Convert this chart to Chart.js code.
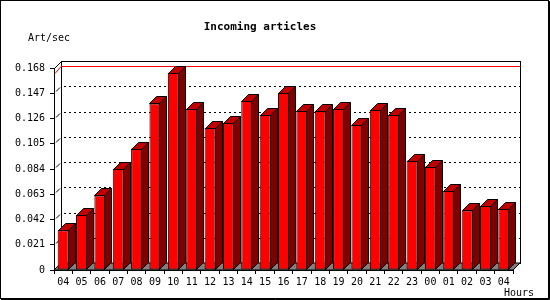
<!DOCTYPE html>
<html>
<head>
<meta charset="utf-8">
<script src="https://cdn.jsdelivr.net/npm/chart.js@4/dist/chart.umd.min.js"></script>
<style>
  body { margin: 0; background: #fff; }
  canvas { display: block; }
</style>
</head>
<body>
<canvas id="articles" width="550" height="300"></canvas>
<script>
var hours = ["04", "05", "06", "07", "08", "09", "10", "11", "12", "13", "14", "15", "16",
             "17", "18", "19", "20", "21", "22", "23", "00", "01", "02", "03", "04"];
var artPerSec = [0.033, 0.046, 0.062, 0.084, 0.101, 0.1385, 0.164, 0.134, 0.118, 0.1225, 0.1405, 0.129, 0.1475,
                 0.1325, 0.1325, 0.134, 0.121, 0.133, 0.129, 0.091, 0.086, 0.066, 0.0495, 0.0535, 0.051];
var yMax = 0.168;
var yStep = 0.021;

var DX = 7, DY = 7;
var monoFont = '"DejaVu Sans Mono", "Liberation Mono", monospace';

// back wall, floor, dotted grid and max line
var depthBackground = {
  id: "depthBackground",
  beforeDatasetsDraw: function(chart) {
    var ctx = chart.ctx;
    var a = chart.chartArea;
    var y = chart.scales.y;
    ctx.save();
    ctx.lineWidth = 1;
    ctx.strokeStyle = "#000";

    ctx.fillStyle = "#fff";
    ctx.fillRect(a.left + DX, a.top - DY, a.right - a.left, a.bottom - a.top);
    ctx.strokeRect(Math.round(a.left + DX) + 0.5, Math.round(a.top - DY) + 0.5,
                   Math.round(a.right - a.left), Math.round(a.bottom - a.top));

    // floor
    ctx.fillStyle = "#808080";
    ctx.beginPath();
    ctx.moveTo(a.left, a.bottom);
    ctx.lineTo(a.right, a.bottom);
    ctx.lineTo(a.right + DX, a.bottom - DY);
    ctx.lineTo(a.left + DX, a.bottom - DY);
    ctx.closePath();
    ctx.fill();
    ctx.stroke();

    // corner diagonals
    ctx.beginPath();
    ctx.moveTo(a.left + 0.5, a.top + 0.5);
    ctx.lineTo(a.left + DX + 0.5, a.top - DY + 0.5);
    ctx.stroke();

    // dotted grid on the back wall
    y.ticks.forEach(function(t) {
      if (t.value <= 0 || t.value >= yMax - 1e-9) return;
      var py = Math.round(y.getPixelForValue(t.value)) + 0.5;
      ctx.setLineDash([]);
      ctx.beginPath();
      ctx.moveTo(a.left + 2, py - 2);
      ctx.lineTo(a.left + DX - 1, py - DY + 1);
      ctx.stroke();
      ctx.setLineDash([2, 3]);
      ctx.beginPath();
      ctx.moveTo(a.left + DX + 3, py - DY);
      ctx.lineTo(a.right + DX, py - DY);
      ctx.stroke();
    });
    ctx.setLineDash([]);

    // maximum value line
    var peak = Math.max.apply(null, artPerSec);
    var my = Math.round(y.getPixelForValue(peak)) + 0.5;
    ctx.strokeStyle = "#ff0000";
    ctx.beginPath();
    ctx.moveTo(a.left + 1, my);
    ctx.lineTo(a.left + DX, my - DY);
    ctx.lineTo(a.right + DX, my - DY);
    ctx.stroke();
    ctx.restore();
  }
};

// side and top faces of each bar
var depthBars = {
  id: "depthBars",
  afterDatasetsDraw: function(chart) {
    var ctx = chart.ctx;
    var bars = chart.getDatasetMeta(0).data;
    ctx.save();
    ctx.lineWidth = 1;
    ctx.strokeStyle = "#000";
    bars.forEach(function(bar) {
      var p = bar.getProps(["x", "y", "base", "width"], true);
      var l = Math.round(p.x - p.width / 2) + 0.5;
      var r = Math.round(p.x + p.width / 2) - 0.5;
      var top = Math.round(p.y) + 0.5;
      var base = Math.round(p.base) - 0.5;

      ctx.fillStyle = "#800000";
      ctx.beginPath();
      ctx.moveTo(r, top);
      ctx.lineTo(r + DX, top - DY);
      ctx.lineTo(r + DX, base - DY);
      ctx.lineTo(r, base);
      ctx.closePath();
      ctx.fill();
      ctx.stroke();

      ctx.fillStyle = "#c00000";
      ctx.beginPath();
      ctx.moveTo(l, top);
      ctx.lineTo(l + DX, top - DY);
      ctx.lineTo(r + DX, top - DY);
      ctx.lineTo(r, top);
      ctx.closePath();
      ctx.fill();
      ctx.stroke();
    });
    ctx.restore();
  }
};

var frameAndText = {
  id: "frameAndText",
  beforeDraw: function(chart) {
    var ctx = chart.ctx;
    ctx.save();
    ctx.fillStyle = "#fff";
    ctx.fillRect(0, 0, chart.width, chart.height);
    ctx.restore();
  },
  afterDraw: function(chart) {
    var ctx = chart.ctx;
    ctx.save();
    ctx.fillStyle = "#000";
    ctx.textBaseline = "middle";
    ctx.textAlign = "center";
    ctx.font = "bold 11px " + monoFont;
    ctx.fillText("Incoming articles", 260, 27);
    ctx.textAlign = "left";
    ctx.font = "10px " + monoFont;
    ctx.fillText("Art/sec", 28, 38);
    ctx.fillText("Hours", 504, 293);

    ctx.strokeStyle = "#000";
    ctx.lineWidth = 1;
    ctx.strokeRect(0.5, 0.5, chart.width - 2, chart.height - 2);
    ctx.beginPath();
    ctx.moveTo(chart.width - 0.5, 1);
    ctx.lineTo(chart.width - 0.5, chart.height - 0.5);
    ctx.lineTo(1, chart.height - 0.5);
    ctx.stroke();
    ctx.restore();
  }
};

new Chart("articles", {
  type: "bar",
  data: {
    labels: hours,
    datasets: [{
      data: artPerSec,
      backgroundColor: "#ff0000",
      borderColor: "#000000",
      borderWidth: 1,
      borderSkipped: false,
      categoryPercentage: 1.0,
      barPercentage: 0.6
    }]
  },
  options: {
    responsive: false,
    devicePixelRatio: 1,
    animation: false,
    layout: {
      padding: { top: 68, right: 37, bottom: 0, left: 0 }
    },
    plugins: {
      legend: { display: false },
      title: { display: false },
      tooltip: { enabled: false }
    },
    scales: {
      x: {
        grid: { drawOnChartArea: false, offset: true, color: "#000", tickLength: 4 },
        border: { display: true, color: "#000" },
        ticks: {
          color: "#000",
          font: { family: monoFont, size: 10 },
          padding: 2,
          maxRotation: 0,
          autoSkip: false
        },
        afterFit: function(scale) { scale.height = 30; }
      },
      y: {
        min: 0,
        max: yMax,
        grid: { drawOnChartArea: false, color: "#000", tickLength: 4 },
        border: { display: true, color: "#000" },
        ticks: {
          stepSize: yStep,
          color: "#000",
          font: { family: monoFont, size: 10 },
          padding: 5,
          callback: function(v) { return v === 0 ? "0" : v.toFixed(3); }
        },
        afterFit: function(scale) { scale.width = 54; }
      }
    }
  },
  plugins: [frameAndText, depthBackground, depthBars]
});
</script>
</body>
</html>
